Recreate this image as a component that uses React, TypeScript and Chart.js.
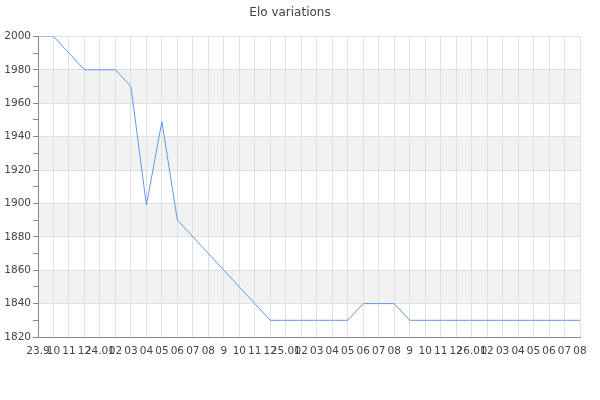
import React, { useEffect, useRef } from "react";
import { Chart, registerables } from "chart.js";

Chart.register(...registerables);

const labels: string[] = [
  "23.9", "10", "11", "12",
  "24.01", "02", "03", "04", "05", "06", "07", "08", "9", "10", "11", "12",
  "25.01", "02", "03", "04", "05", "06", "07", "08", "9", "10", "11", "12",
  "26.01", "02", "03", "04", "05", "06", "07", "08",
];

const elo: number[] = [
  2000, 2000, 1990, 1980,
  1980, 1980, 1970, 1899, 1949, 1890, 1880, 1870, 1860, 1850, 1840, 1830,
  1830, 1830, 1830, 1830, 1830, 1840, 1840, 1840, 1830, 1830, 1830, 1830,
  1830, 1830, 1830, 1830, 1830, 1830, 1830, 1830,
];

const bandStarts: number[] = [1840, 1880, 1920, 1960];
const bandSize = 20;
const yMin = 1820;
const yMax = 2000;

const bandsPlugin = {
  id: "bands",
  beforeDraw(chart: any) {
    const { ctx, chartArea, scales } = chart;
    const y = scales.y;
    ctx.save();
    ctx.fillStyle = "#f2f2f2";
    bandStarts.forEach((b) => {
      const top = y.getPixelForValue(b + bandSize);
      const bottom = y.getPixelForValue(b);
      ctx.fillRect(chartArea.left, top, chartArea.right - chartArea.left, bottom - top);
    });
    ctx.restore();
  },
};

export default function App() {
  const ref = useRef<HTMLCanvasElement | null>(null);

  useEffect(() => {
    if (!ref.current) return;
    const chart = new Chart(ref.current, {
      type: "line",
      data: {
        labels,
        datasets: [
          {
            data: elo,
            borderColor: "#6495ed",
            borderWidth: 1,
            pointRadius: 0,
            tension: 0,
            fill: false,
          },
        ],
      },
      plugins: [bandsPlugin],
      options: {
        animation: false,
        responsive: false,
        maintainAspectRatio: false,
        layout: { padding: { left: 0, right: 20, top: 0, bottom: 0 } },
        plugins: {
          legend: { display: false },
          tooltip: { enabled: false },
          title: {
            display: true,
            text: "Elo variations",
            color: "#444",
            font: { family: "'DejaVu Sans'", size: 12, weight: "normal" },
            padding: { top: 6, bottom: 16 },
          },
        },
        scales: {
          x: {
            type: "category",
            offset: false,
            grid: { color: "#e0e0e0", drawTicks: false },
            border: { color: "#888", width: 1 },
            ticks: {
              autoSkip: false,
              maxRotation: 0,
              minRotation: 0,
              padding: 8,
              color: "#444",
              font: { family: "'DejaVu Sans'", size: 10.5 },
            },
            afterFit: (scale: any) => {
              scale.height = 63;
            },
          },
          y: {
            min: yMin,
            max: yMax,
            grid: {
              color: (c: any) => (c.tick && c.tick.value % 20 === 0 ? "#e0e0e0" : "rgba(0,0,0,0)"),
              tickColor: "#888",
              tickLength: 5,
            },
            border: { color: "#888", width: 1 },
            ticks: {
              stepSize: 10,
              padding: 2,
              color: "#444",
              font: { family: "'DejaVu Sans'", size: 10.5 },
              callback: (v: any) => (Number(v) % 20 === 0 ? String(v) : ""),
            },
            afterFit: (scale: any) => {
              scale.width = 38;
            },
          },
        },
      },
    });
    return () => chart.destroy();
  }, []);

  return (
    <div style={{ position: "fixed", left: 0, top: 0, width: 600, height: 400, background: "#fff" }}>
      <canvas ref={ref} width={600} height={400} style={{ width: 600, height: 400 }} />
    </div>
  );
}
